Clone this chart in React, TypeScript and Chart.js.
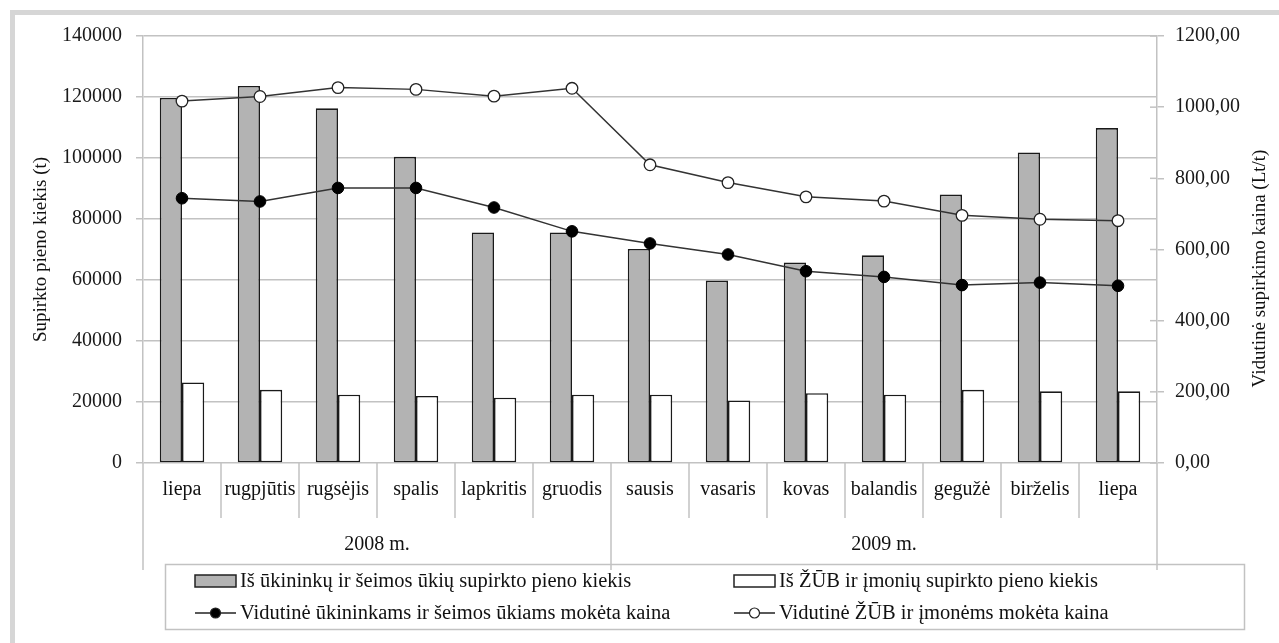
import React, { useEffect, useRef } from 'react';
import { Chart, registerables } from 'chart.js';

Chart.register(...registerables);

// ---- data ----
const months = ['liepa', 'rugpjūtis', 'rugsėjis', 'spalis', 'lapkritis', 'gruodis', 'sausis', 'vasaris', 'kovas', 'balandis', 'gegužė', 'birželis', 'liepa'];
const years = ['2008 m.', '2009 m.'];
const yearSpans = [6, 7];
const farmVolume = [119700, 123600, 116300, 100400, 75600, 75600, 70200, 59800, 65700, 68100, 88000, 101800, 109800];
const companyVolume = [26400, 24000, 22400, 22000, 21400, 22400, 22400, 20500, 22900, 22400, 24000, 23500, 23500];
const farmPrice = [744, 735, 773, 773, 718, 651, 617, 586, 539, 523, 500, 507, 498];
const companyPrice = [1017, 1030, 1055, 1050, 1031, 1053, 838, 788, 748, 736, 696, 685, 681];
const leftTicks = [0, 20000, 40000, 60000, 80000, 100000, 120000, 140000];
const rightTicks = [0, 200, 400, 600, 800, 1000, 1200];
const seriesLabels = [
  'Iš ūkininkų ir šeimos ūkių supirkto pieno kiekis',
  'Iš ŽŪB ir įmonių supirkto pieno kiekis',
  'Vidutinė ūkininkams ir šeimos ūkiams mokėta kaina',
  'Vidutinė ŽŪB ir įmonėms mokėta kaina',
];
const leftTitle = 'Supirkto pieno kiekis (t)';
const rightTitle = 'Vidutinė supirkimo kaina (Lt/t)';

const FONT = "'Liberation Serif', 'Times New Roman', serif";
const TEXT = '#111111';
const GRID = '#c2c2c2';

const overlay = {
  id: 'overlay',
  afterDraw(chart: any) {
    const { ctx, chartArea } = chart;
    const xs = chart.scales.x;
    const y1 = chart.scales.y1;
    const px = (i: number) => xs.getPixelForValue(i);
    const bottom = chartArea.bottom;
    ctx.save();
    // category separators
    ctx.strokeStyle = GRID;
    ctx.lineWidth = 1.5;
    const yearBoundaries: number[] = [];
    let acc = 0;
    yearSpans.forEach((s) => { acc += s; yearBoundaries.push(acc); });
    for (let i = 1; i < months.length; i++) {
      const bx = (px(i - 1) + px(i)) / 2;
      const long = yearBoundaries.includes(i);
      ctx.beginPath();
      ctx.moveTo(bx, bottom);
      ctx.lineTo(bx, long ? bottom + 107 : bottom + 55);
      ctx.stroke();
    }
    // axis extensions
    [chartArea.left, chartArea.right].forEach((x) => {
      ctx.beginPath();
      ctx.moveTo(x, bottom);
      ctx.lineTo(x, bottom + 107);
      ctx.stroke();
    });
    // right axis inner ticks
    y1.ticks.forEach((t: any) => {
      const yy = y1.getPixelForValue(t.value);
      ctx.beginPath();
      ctx.moveTo(chartArea.right - 7, yy);
      ctx.lineTo(chartArea.right, yy);
      ctx.stroke();
    });
    // month labels
    ctx.fillStyle = TEXT;
    ctx.font = `20px ${FONT}`;
    ctx.textAlign = 'center';
    ctx.textBaseline = 'middle';
    months.forEach((m, i) => ctx.fillText(m, px(i), bottom + 27));
    // year labels
    let start = 0;
    years.forEach((yl, k) => {
      const end = start + yearSpans[k] - 1;
      const left = start === 0 ? chartArea.left : (px(start - 1) + px(start)) / 2;
      const right = end === months.length - 1 ? chartArea.right : (px(end) + px(end + 1)) / 2;
      ctx.fillText(yl, (left + right) / 2, bottom + 82);
      start += yearSpans[k];
    });
    // axis titles
    ctx.font = `19px ${FONT}`;
    ctx.save();
    ctx.translate(41, (chartArea.top + chartArea.bottom) / 2);
    ctx.rotate(-Math.PI / 2);
    ctx.fillText(leftTitle, 0, 0);
    ctx.restore();
    ctx.save();
    ctx.translate(1260, (chartArea.top + chartArea.bottom) / 2 + 19);
    ctx.rotate(-Math.PI / 2);
    ctx.fillText(rightTitle, 0, 0);
    ctx.restore();
    // legend
    const lx = 165.5, ly = bottom + 101.5, lw = 1079, lh = 65;
    ctx.strokeStyle = GRID;
    ctx.lineWidth = 1.5;
    ctx.strokeRect(lx, ly, lw, lh);
    const cols = [195, 734];
    const rows = [bottom + 118, bottom + 150];
    ctx.font = `20.5px ${FONT}`;
    ctx.textAlign = 'left';
    chart.data.datasets.forEach((ds: any, i: number) => {
      const x = cols[i % 2];
      const y = rows[Math.floor(i / 2)];
      ctx.strokeStyle = '#222';
      if (ds.type === 'bar') {
        ctx.fillStyle = ds.backgroundColor;
        ctx.lineWidth = 1.5;
        ctx.fillRect(x, y - 6, 41, 12);
        ctx.strokeRect(x, y - 6, 41, 12);
      } else {
        ctx.lineWidth = 1.5;
        ctx.beginPath();
        ctx.moveTo(x, y);
        ctx.lineTo(x + 41, y);
        ctx.stroke();
        ctx.beginPath();
        ctx.arc(x + 20.5, y, 5, 0, Math.PI * 2);
        ctx.fillStyle = ds.pointBackgroundColor;
        ctx.fill();
        ctx.lineWidth = 1.2;
        ctx.stroke();
      }
      ctx.fillStyle = TEXT;
      ctx.fillText(ds.label, x + 45, y + 1);
    });
    ctx.restore();
  },
};

export default function App() {
  const ref = useRef<HTMLCanvasElement>(null);
  useEffect(() => {
    if (!ref.current) return;
    const chart = new Chart(ref.current, {
      type: 'bar',
      data: {
        labels: months,
        datasets: [
          {
            type: 'bar', label: seriesLabels[0], data: farmVolume, yAxisID: 'y',
            backgroundColor: '#b3b3b3', borderColor: '#1a1a1a', borderWidth: 1.6, borderSkipped: false,
            categoryPercentage: 0.57, barPercentage: 1, order: 1,
          },
          {
            type: 'bar', label: seriesLabels[1], data: companyVolume, yAxisID: 'y',
            backgroundColor: '#ffffff', borderColor: '#1a1a1a', borderWidth: 1.6, borderSkipped: false,
            categoryPercentage: 0.57, barPercentage: 1, order: 1,
          },
          {
            type: 'line', label: seriesLabels[2], data: farmPrice, yAxisID: 'y1',
            borderColor: '#333333', borderWidth: 1.5, pointRadius: 5.8, pointBackgroundColor: '#000000',
            pointBorderColor: '#000', pointBorderWidth: 1, tension: 0, order: 0,
          },
          {
            type: 'line', label: seriesLabels[3], data: companyPrice, yAxisID: 'y1',
            borderColor: '#333333', borderWidth: 1.5, pointRadius: 5.8, pointBackgroundColor: '#ffffff',
            pointBorderColor: '#222', pointBorderWidth: 1.3, tension: 0, order: 0,
          },
        ] as any,
      },
      options: {
        responsive: false,
        animation: false,
        devicePixelRatio: 1,
        layout: { padding: { top: 36, bottom: 180, left: 0, right: 0 } },
        plugins: { legend: { display: false }, tooltip: { enabled: false } },
        scales: {
          x: { display: false, offset: true },
          y: {
            position: 'left', min: 0, max: 140000,
            afterBuildTicks: (s: any) => { s.ticks = leftTicks.map((v) => ({ value: v })); },
            afterFit: (s: any) => { s.width = 143; },
            ticks: { color: '#1a1a1a', font: { family: FONT, size: 20 }, padding: 14, callback: (v: any) => String(v) },
            grid: { color: GRID, lineWidth: 1.5, tickLength: 7 },
            border: { color: GRID, width: 1.5 },
          },
          y1: {
            position: 'right', min: 0, max: 1200,
            afterBuildTicks: (s: any) => { s.ticks = rightTicks.map((v) => ({ value: v })); },
            afterFit: (s: any) => { s.width = 122; },
            ticks: { color: '#1a1a1a', font: { family: FONT, size: 20 }, padding: 11, callback: (v: any) => Number(v).toFixed(2).replace('.', ',') },
            grid: { drawOnChartArea: false, color: GRID, lineWidth: 1.5, tickLength: 7 },
            border: { color: GRID, width: 1.5 },
          },
        },
      } as any,
      plugins: [overlay],
    });
    return () => chart.destroy();
  }, []);
  return (
    <div style={{ position: 'fixed', left: 0, top: 0, width: 1279, height: 643, background: '#fff' }}>
      <div style={{ position: 'absolute', left: 10, top: 10, width: 1269, height: 633, borderTop: '5px solid #d6d6d6', borderLeft: '5px solid #d6d6d6', boxSizing: 'border-box' }} />
      <canvas ref={ref} width={1279} height={643} style={{ position: 'absolute', left: 0, top: 0 }} />
    </div>
  );
}
